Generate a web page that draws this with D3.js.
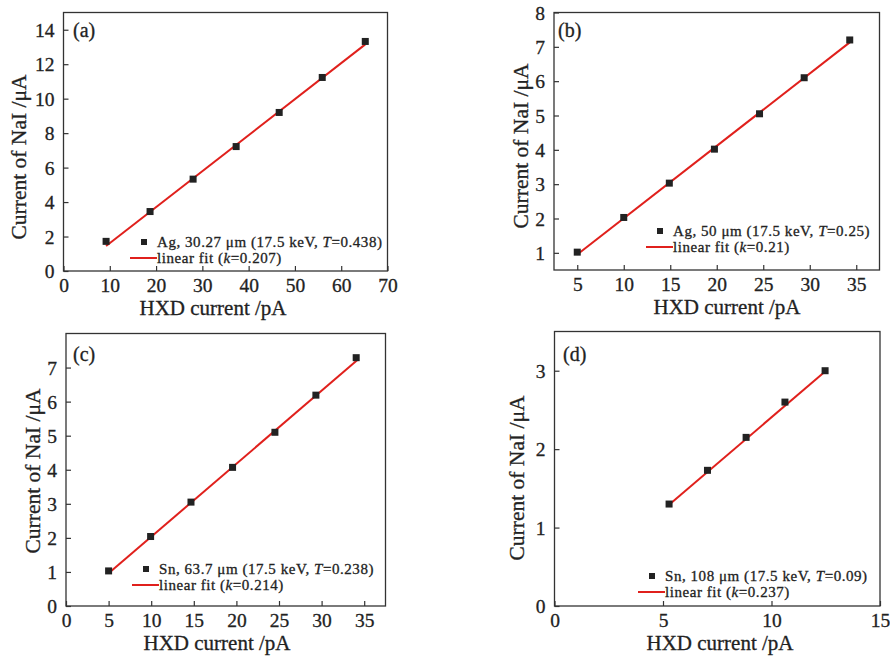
<!DOCTYPE html>
<html>
<head>
<meta charset="utf-8">
<script src="https://cdn.jsdelivr.net/npm/d3@7"></script>
<style>
  body { margin: 0; background: #fff; }
  svg text { font-family: "Liberation Serif", "Times New Roman", serif; fill: #222; stroke: #222; stroke-width: 0.3px; }
</style>
</head>
<body>
<div id="chart"></div>
<script>
// values
const xA = [9.2, 18.7, 28.0, 37.3, 46.6, 55.9, 65.2];
const yA = [1.72, 3.45, 5.33, 7.22, 9.2, 11.23, 13.32];
const fitA = [[9.2, 1.45], [65.2, 13.15]];

const xB = [5.0, 10.0, 14.9, 19.75, 24.6, 29.4, 34.3];
const yB = [1.02, 2.03, 3.03, 4.02, 5.05, 6.1, 7.2];
const fitB = [[5.0, 0.95], [34.3, 7.13]];

const xC = [5.0, 9.93, 14.67, 19.55, 24.52, 29.33, 34.06];
const yC = [1.03, 2.04, 3.05, 4.07, 5.1, 6.19, 7.29];
const fitC = [[5.0, 0.96], [34.2, 7.22]];

const xD = [5.28, 7.05, 8.83, 10.62, 12.47];
const yD = [1.3, 1.73, 2.15, 2.6, 3.0];
const fitD = [[5.28, 1.29], [12.47, 2.99]];

const ticksXA = [0, 10, 20, 30, 40, 50, 60, 70];
const ticksYA = [0, 2, 4, 6, 8, 10, 12, 14];
const ticksXB = [5, 10, 15, 20, 25, 30, 35];
const ticksYB = [1, 2, 3, 4, 5, 6, 7, 8];
const ticksXC = [0, 5, 10, 15, 20, 25, 30, 35];
const ticksYC = [0, 1, 2, 3, 4, 5, 6, 7];
const ticksXD = [0, 5, 10, 15];
const ticksYD = [0, 1, 2, 3];

const legendA = ['Ag, 30.27 \u03bcm (17.5 keV, ', '=0.438)', '0.207'];
const legendB = ['Ag, 50 \u03bcm (17.5 keV, ', '=0.25)', '0.21'];
const legendC = ['Sn, 63.7 \u03bcm (17.5 keV, ', '=0.238)', '0.214'];
const legendD = ['Sn, 108 \u03bcm (17.5 keV, ', '=0.09)', '0.237'];

const svg = d3.select('#chart')
  .append('svg')
  .attr('width', 890)
  .attr('height', 659);

const panels = [
  { tag: '(a)', xs: xA, ys: yA, fit: fitA, tx: ticksXA, ty: ticksYA, leg: legendA,
    xd: [0, 70], yd: [0, 15], box: [63.5, 387.5, 12.5, 271],
    tagPos: [73, 37], yTitle: [18, 157], xTitle: [213, 315], legPos: [144, 242] },
  { tag: '(b)', xs: xB, ys: yB, fit: fitB, tx: ticksXB, ty: ticksYB, leg: legendB,
    xd: [2.5, 37.5], yd: [0.5, 8], box: [554, 879.5, 12.5, 270],
    tagPos: [558, 37], yTitle: [520, 146], xTitle: [727, 314], legPos: [660, 231] },
  { tag: '(c)', xs: xC, ys: yC, fit: fitC, tx: ticksXC, ty: ticksYC, leg: legendC,
    xd: [0, 37.5], yd: [0, 8], box: [66, 385.5, 333.5, 606],
    tagPos: [73, 361], yTitle: [32, 471], xTitle: [217, 650], legPos: [146, 569] },
  { tag: '(d)', xs: xD, ys: yD, fit: fitD, tx: ticksXD, ty: ticksYD, leg: legendD,
    xd: [0, 15], yd: [0, 3.5], box: [554.5, 880, 331.5, 606],
    tagPos: [563, 361], yTitle: [516, 478], xTitle: [720, 650], legPos: [652, 576] }
];

panels.forEach(p => {
  const [x0, x1, y0, y1] = p.box;
  const x = d3.scaleLinear().domain(p.xd).range([x0, x1]);
  const y = d3.scaleLinear().domain(p.yd).range([y1, y0]);
  const g = svg.append('g');

  // frame
  g.append('rect')
    .attr('x', x0).attr('y', y0)
    .attr('width', x1 - x0).attr('height', y1 - y0)
    .attr('fill', 'none')
    .attr('stroke', '#333')
    .attr('stroke-width', 1.3);

  // axes, ticks pointing inward
  const fmt = d3.format('d');
  const xAxis = g.append('g')
    .attr('transform', 'translate(0,' + y1 + ')')
    .call(d3.axisBottom(x).tickValues(p.tx).tickFormat(fmt).tickSizeInner(-5).tickSizeOuter(0).tickPadding(7));
  const yAxis = g.append('g')
    .attr('transform', 'translate(' + x0 + ',0)')
    .call(d3.axisLeft(y).tickValues(p.ty).tickFormat(fmt).tickSizeInner(-5).tickSizeOuter(0).tickPadding(9));
  [xAxis, yAxis].forEach(a => {
    a.select('.domain').remove();
    a.selectAll('.tick line').attr('stroke', '#333').attr('stroke-width', 1.2);
    a.selectAll('.tick text')
      .style('font-size', '19.5px')
      .style('font-family', '"Liberation Serif", serif')
      .attr('fill', '#222');
  });
  xAxis.selectAll('.tick text').attr('dy', '0.72em');
  yAxis.selectAll('.tick text').attr('dy', '0.34em');

  // fit line
  g.append('line')
    .attr('x1', x(p.fit[0][0])).attr('y1', y(p.fit[0][1]))
    .attr('x2', x(p.fit[1][0])).attr('y2', y(p.fit[1][1]))
    .attr('stroke', '#e0201c')
    .attr('stroke-width', 2);

  // data markers
  g.selectAll('rect.pt')
    .data(p.xs.map((v, i) => [v, p.ys[i]]))
    .join('rect')
    .attr('class', 'pt')
    .attr('x', d => x(d[0]) - 3.5)
    .attr('y', d => y(d[1]) - 3.5)
    .attr('width', 7).attr('height', 7)
    .attr('fill', '#222');

  // panel tag
  g.append('text')
    .text(p.tag)
    .attr('x', p.tagPos[0]).attr('y', p.tagPos[1])
    .style('font-size', '20px');

  // axis titles
  g.append('text')
    .text('HXD current /pA')
    .attr('x', p.xTitle[0]).attr('y', p.xTitle[1])
    .attr('text-anchor', 'middle')
    .style('font-size', '21px');
  g.append('text')
    .text('Current of NaI /\u03bcA')
    .attr('transform', 'translate(' + p.yTitle[0] + ',' + p.yTitle[1] + ') rotate(-90)')
    .attr('text-anchor', 'middle')
    .attr('dy', '0.35em')
    .style('font-size', '21.5px');

  // legend
  const [lx, ly] = p.legPos;
  g.append('rect')
    .attr('x', lx - 3).attr('y', ly - 3)
    .attr('width', 6).attr('height', 6)
    .attr('fill', '#222');
  const t1 = g.append('text')
    .attr('x', lx + 13).attr('y', ly + 4.5)
    .style('font-size', '15px')
    .style('letter-spacing', '0.55px');
  t1.append('tspan').text(p.leg[0]);
  t1.append('tspan').text('T').style('font-style', 'italic');
  t1.append('tspan').text(p.leg[1]);

  g.append('line')
    .attr('x1', lx - 14).attr('x2', lx + 13)
    .attr('y1', ly + 16).attr('y2', ly + 16)
    .attr('stroke', '#e0201c')
    .attr('stroke-width', 2);
  const t2 = g.append('text')
    .attr('x', lx + 13).attr('y', ly + 21.3)
    .style('font-size', '15px')
    .style('letter-spacing', '0.55px');
  t2.append('tspan').text('linear fit (');
  t2.append('tspan').text('k').style('font-style', 'italic');
  t2.append('tspan').text('=' + p.leg[2] + ')');
});
</script>
</body>
</html>
